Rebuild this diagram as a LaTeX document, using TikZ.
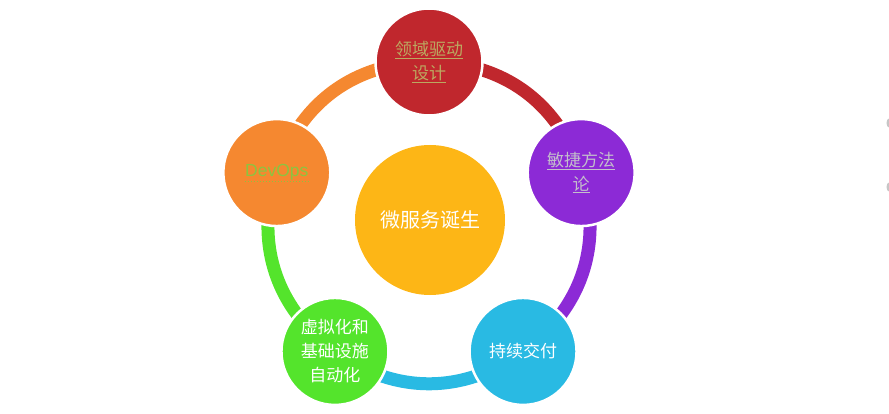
\documentclass[tikz,border=0pt]{standalone}
\usepackage{fontspec}
\setmainfont{Noto Sans CJK SC}
\newfontfamily\latinfont{Liberation Sans}
\usetikzlibrary{backgrounds}

\definecolor{dddred}{RGB}{192,39,45}
\definecolor{agilepurple}{RGB}{140,42,214}
\definecolor{cdblue}{RGB}{41,186,227}
\definecolor{infragreen}{RGB}{84,228,44}
\definecolor{devopsorange}{RGB}{245,136,48}
\definecolor{coreyellow}{RGB}{253,182,22}
\definecolor{linkkhaki}{RGB}{188,168,96}
\definecolor{linkgray}{RGB}{196,190,204}
\definecolor{linkgreen}{RGB}{140,196,64}

\tikzset{
  phase/.style={circle, draw=white, line width=2.5pt, minimum size=107pt,
    inner sep=0pt, text=white, align=center, font=\fontsize{17}{24}\selectfont},
  ring/.style={line width=13pt, bend left=36},
}

\begin{document}
\begin{tikzpicture}[x=1pt, y=1pt]
  \useasboundingbox (0,0) rectangle (889,413);
  \node[circle, fill=coreyellow, minimum size=150pt, text=white,
    font=\fontsize{20}{24}\selectfont] (core) at (430,193) {微服务诞生};
  \begin{scope}[shift={(429,191)}]
    \node[phase, fill=dddred, text=linkkhaki] (ddd) at (90:160) {\underline{领域驱动}\\\underline{设计}};
    \node[phase, fill=agilepurple, text=linkgray] (agile) at (18:160) {\underline{敏捷方法}\\\underline{论}};
    \node[phase, fill=cdblue] (cd) at (-54:160) {持续交付};
    \node[phase, fill=infragreen] (infra) at (-126:160) {虚拟化和\\基础设施\\自动化};
    \node[phase, fill=devopsorange, text=linkgreen] (devops) at (162:160) {\latinfont\fontsize{17.5}{22}\selectfont DevOps};
  \end{scope}
  \draw[linkgreen, line width=1.2pt, dash pattern=on 1.5pt off 1.5pt]
    ([xshift=-32pt, yshift=-9pt]devops.center) -- ++(64,0);
  % ring between the phases
  \begin{scope}[on background layer]
    \draw[ring, dddred] (ddd.center) to (agile.center);
    \draw[ring, agilepurple] (agile.center) to (cd.center);
    \draw[ring, cdblue] (cd.center) to (infra.center);
    \draw[ring, infragreen] (infra.center) to (devops.center);
    \draw[ring, devopsorange] (devops.center) to (ddd.center);
  \end{scope}
  \fill[gray!45] (889,290) ellipse (2.5pt and 4.5pt);
  \fill[gray!45] (889,226) ellipse (2.5pt and 4.5pt);
\end{tikzpicture}
\end{document}
